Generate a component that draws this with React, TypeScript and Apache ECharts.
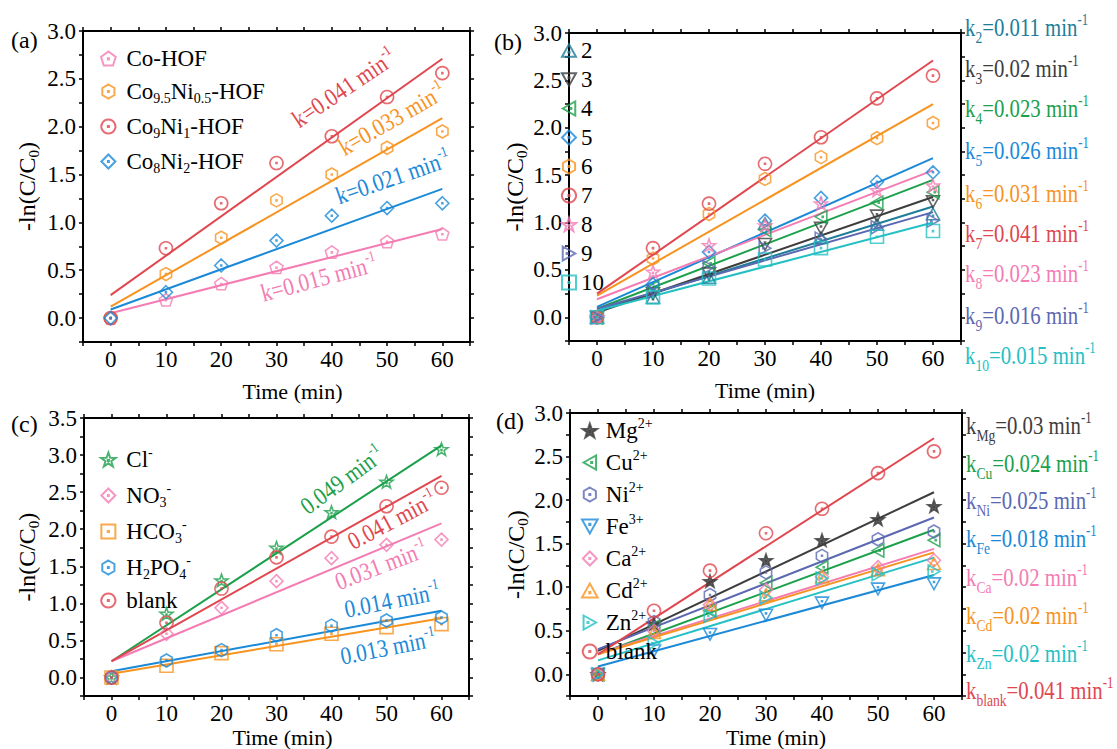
import React, { useEffect, useRef } from 'react';
import * as echarts from 'echarts';

const FONT = 'Times New Roman, Liberation Serif, Tinos, Nimbus Roman, Times, serif';

// ---------- shared x values ----------
const TIME = [0, 10, 20, 30, 40, 50, 60];
const FIT_X = [0, 60];

// ---------- colours ----------
const RED = '#e0474f';
const ORANGE = '#f7931e';
const PINK = '#f47cb3';
const BLUE = '#1a89d8';
const GREEN = '#1ba04b';
const GRAY = '#3d3d3d';
const TEAL = '#1d7d99';
const SLATE = '#5b68b1';
const CYAN = '#25c0c4';

// ---------- panel (a) ----------
const A_COHOF = [0, 0.19, 0.36, 0.53, 0.69, 0.8, 0.88];
const A_CO95 = [0, 0.46, 0.84, 1.23, 1.5, 1.78, 1.95];
const A_CO9 = [0, 0.73, 1.2, 1.62, 1.9, 2.31, 2.56];
const A_CO8 = [0, 0.27, 0.55, 0.81, 1.07, 1.15, 1.2];
const A_FIT_COHOF = [0.05, 0.93];
const A_FIT_CO95 = [0.12, 2.09];
const A_FIT_CO9 = [0.24, 2.71];
const A_FIT_CO8 = [0.09, 1.35];

// ---------- panel (b) ----------
const B_2 = [0, 0.21, 0.42, 0.99, 0.84, 0.98, 1.09];
const B_3 = [0, 0.25, 0.46, 0.77, 0.94, 1.07, 1.22];
const B_4 = [0, 0.32, 0.57, 0.92, 1.06, 1.21, 1.32];
const B_5 = [0, 0.35, 0.69, 1.02, 1.26, 1.43, 1.53];
const B_6 = [0, 0.62, 1.09, 1.46, 1.69, 1.89, 2.05];
const B_7 = [0, 0.73, 1.2, 1.62, 1.9, 2.31, 2.55];
const B_8 = [0, 0.48, 0.76, 0.97, 1.2, 1.34, 1.39];
const B_9 = [0, 0.27, 0.53, 0.73, 0.83, 0.95, 1.02];
const B_10 = [0, 0.21, 0.41, 0.61, 0.73, 0.85, 0.91];
const B_FIT_2 = [0.07, 1.17];
const B_FIT_3 = [0.05, 1.27];
const B_FIT_4 = [0.09, 1.45];
const B_FIT_5 = [0.11, 1.68];
const B_FIT_6 = [0.23, 2.25];
const B_FIT_7 = [0.25, 2.71];
const B_FIT_8 = [0.19, 1.55];
const B_FIT_9 = [0.09, 1.11];
const B_FIT_10 = [0.07, 1.0];

// ---------- panel (c) ----------
const C_CL = [0, 0.86, 1.31, 1.75, 2.23, 2.64, 3.08];
const C_NO3 = [0, 0.59, 0.94, 1.3, 1.61, 1.79, 1.86];
const C_HCO3 = [0, 0.16, 0.33, 0.45, 0.59, 0.68, 0.72];
const C_H2PO4 = [0, 0.23, 0.37, 0.57, 0.7, 0.77, 0.81];
const C_BLANK = [0, 0.74, 1.2, 1.62, 1.9, 2.31, 2.56];
const C_FIT_CL = [0.22, 3.13];
const C_FIT_NO3 = [0.22, 2.08];
const C_FIT_HCO3 = [0.05, 0.8];
const C_FIT_H2PO4 = [0.085, 0.9];
const C_FIT_BLANK = [0.22, 2.72];

// ---------- panel (d) ----------
const D_MG = [0, 0.58, 1.07, 1.31, 1.54, 1.78, 1.93];
const D_CU = [0, 0.55, 0.73, 1.05, 1.23, 1.42, 1.54];
const D_NI = [0, 0.6, 0.91, 1.17, 1.36, 1.55, 1.64];
const D_FE = [0, 0.27, 0.46, 0.68, 0.82, 0.98, 1.04];
const D_CA = [0, 0.5, 0.8, 0.97, 1.12, 1.23, 1.31];
const D_CD = [0, 0.48, 0.8, 0.91, 1.12, 1.2, 1.27];
const D_ZN = [0, 0.36, 0.67, 0.88, 1.1, 1.15, 1.18];
const D_BLANK = [0, 0.73, 1.19, 1.62, 1.9, 2.31, 2.56];
const D_FIT_MG = [0.27, 2.09];
const D_FIT_CU = [0.23, 1.66];
const D_FIT_NI = [0.29, 1.8];
const D_FIT_FE = [0.09, 1.14];
const D_FIT_CA = [0.24, 1.44];
const D_FIT_CD = [0.23, 1.4];
const D_FIT_ZN = [0.16, 1.34];
const D_FIT_BLANK = [0.23, 2.71];

// ---------- axis ranges ----------
const X_MIN = -5;
const X_MAX = 65;
const X_STEP = 5;
const Y_MIN = -0.25;
const Y_STEP = 0.25;
const Y_MAX_ABD = 3.0;
const Y_MAX_C = 3.5;

// ---------- symbols ----------
const DOT = 'M9.3,9.3L10.7,9.3L10.7,10.7L9.3,10.7Z';
const SYM = {
  circle: 'path://M10,1A9,9,0,1,1,9.99,1Z' + DOT,
  pentagon: 'path://M10,0.5L19.5,7.4L15.9,18.5L4.1,18.5L0.5,7.4Z' + DOT,
  hexagon: 'path://M10,0L18.66,5L18.66,15L10,20L1.34,15L1.34,5Z' + DOT,
  diamond: 'path://M10,0L20,10L10,20L0,10Z' + DOT,
  up: 'path://M10,1L19.5,18L0.5,18Z' + 'M9.3,11.3L10.7,11.3L10.7,12.7L9.3,12.7Z',
  down: 'path://M0.5,2L19.5,2L10,19Z' + 'M9.3,7.3L10.7,7.3L10.7,8.7L9.3,8.7Z',
  left: 'path://M1,10L18,0.5L18,19.5Z' + 'M11.3,9.3L12.7,9.3L12.7,10.7L11.3,10.7Z',
  right: 'path://M2,0.5L19,10L2,19.5Z' + 'M7.3,9.3L8.7,9.3L8.7,10.7L7.3,10.7Z',
  square: 'path://M2,2L18,2L18,18L2,18Z' + DOT,
  star:
    'path://M10,0L12.35,6.76L19.51,6.91L13.8,11.24L15.88,18.09L10,14L4.12,18.09L6.2,11.24L0.49,6.91L7.65,6.76Z' +
    'M9.3,9.6L10.7,9.6L10.7,11L9.3,11Z',
};

// ---------- legend labels (rich text) ----------
const LABELS: Record<string, string> = {
  a1: '{n|Co-HOF}',
  a2: '{n|Co}{b|9.5}{n|Ni}{b|0.5}{n|-HOF}',
  a3: '{n|Co}{b|9}{n|Ni}{b|1}{n|-HOF}',
  a4: '{n|Co}{b|8}{n|Ni}{b|2}{n|-HOF}',
  b2: '{n|2}', b3: '{n|3}', b4: '{n|4}', b5: '{n|5}', b6: '{n|6}',
  b7: '{n|7}', b8: '{n|8}', b9: '{n|9}', b10: '{n|10}',
  c1: '{n|Cl}{p|-}',
  c2: '{n|NO}{b|3}{p|-}',
  c3: '{n|HCO}{b|3}{p|-}',
  c4: '{n|H}{b|2}{n|PO}{b|4}{p|-}',
  c5: '{n|blank}',
  d1: '{n|Mg}{p|2+}',
  d2: '{n|Cu}{p|2+}',
  d3: '{n|Ni}{p|2+}',
  d4: '{n|Fe}{p|3+}',
  d5: '{n|Ca}{p|2+}',
  d6: '{n|Cd}{p|2+}',
  d7: '{n|Zn}{p|2+}',
  d8: '{n|blank}',
};

type Item = { id: string; data: number[]; fit: number[]; sym: string; color: string; filled?: boolean };

const PANEL_A: Item[] = [
  { id: 'a1', data: A_COHOF, fit: A_FIT_COHOF, sym: SYM.pentagon, color: PINK },
  { id: 'a2', data: A_CO95, fit: A_FIT_CO95, sym: SYM.hexagon, color: ORANGE },
  { id: 'a3', data: A_CO9, fit: A_FIT_CO9, sym: SYM.circle, color: RED },
  { id: 'a4', data: A_CO8, fit: A_FIT_CO8, sym: SYM.diamond, color: BLUE },
];
const PANEL_B: Item[] = [
  { id: 'b2', data: B_2, fit: B_FIT_2, sym: SYM.up, color: TEAL },
  { id: 'b3', data: B_3, fit: B_FIT_3, sym: SYM.down, color: GRAY },
  { id: 'b4', data: B_4, fit: B_FIT_4, sym: SYM.left, color: GREEN },
  { id: 'b5', data: B_5, fit: B_FIT_5, sym: SYM.diamond, color: BLUE },
  { id: 'b6', data: B_6, fit: B_FIT_6, sym: SYM.hexagon, color: ORANGE },
  { id: 'b7', data: B_7, fit: B_FIT_7, sym: SYM.circle, color: RED },
  { id: 'b8', data: B_8, fit: B_FIT_8, sym: SYM.star, color: PINK },
  { id: 'b9', data: B_9, fit: B_FIT_9, sym: SYM.right, color: SLATE },
  { id: 'b10', data: B_10, fit: B_FIT_10, sym: SYM.square, color: CYAN },
];
const PANEL_C: Item[] = [
  { id: 'c1', data: C_CL, fit: C_FIT_CL, sym: SYM.star, color: GREEN },
  { id: 'c2', data: C_NO3, fit: C_FIT_NO3, sym: SYM.diamond, color: PINK },
  { id: 'c3', data: C_HCO3, fit: C_FIT_HCO3, sym: SYM.square, color: ORANGE },
  { id: 'c4', data: C_H2PO4, fit: C_FIT_H2PO4, sym: SYM.hexagon, color: BLUE },
  { id: 'c5', data: C_BLANK, fit: C_FIT_BLANK, sym: SYM.circle, color: RED },
];
const PANEL_D: Item[] = [
  { id: 'd1', data: D_MG, fit: D_FIT_MG, sym: SYM.star, color: GRAY, filled: true },
  { id: 'd2', data: D_CU, fit: D_FIT_CU, sym: SYM.left, color: GREEN },
  { id: 'd3', data: D_NI, fit: D_FIT_NI, sym: SYM.hexagon, color: SLATE },
  { id: 'd4', data: D_FE, fit: D_FIT_FE, sym: SYM.down, color: BLUE },
  { id: 'd5', data: D_CA, fit: D_FIT_CA, sym: SYM.diamond, color: PINK },
  { id: 'd6', data: D_CD, fit: D_FIT_CD, sym: SYM.up, color: ORANGE },
  { id: 'd7', data: D_ZN, fit: D_FIT_ZN, sym: SYM.right, color: CYAN },
  { id: 'd8', data: D_BLANK, fit: D_FIT_BLANK, sym: SYM.circle, color: RED },
];

// right-hand rate constant labels
const B_K_LABELS = [
  { sub: '2', val: '=0.011 min', color: TEAL },
  { sub: '3', val: '=0.02 min', color: GRAY },
  { sub: '4', val: '=0.023 min', color: GREEN },
  { sub: '5', val: '=0.026 min', color: BLUE },
  { sub: '6', val: '=0.031 min', color: ORANGE },
  { sub: '7', val: '=0.041 min', color: RED },
  { sub: '8', val: '=0.023 min', color: PINK },
  { sub: '9', val: '=0.016 min', color: SLATE },
  { sub: '10', val: '=0.015 min', color: CYAN },
];
const D_K_LABELS = [
  { sub: 'Mg', val: '=0.03 min', color: GRAY },
  { sub: 'Cu', val: '=0.024 min', color: GREEN },
  { sub: 'Ni', val: '=0.025 min', color: SLATE },
  { sub: 'Fe', val: '=0.018 min', color: BLUE },
  { sub: 'Ca', val: '=0.02 min', color: PINK },
  { sub: 'Cd', val: '=0.02 min', color: ORANGE },
  { sub: 'Zn', val: '=0.02 min', color: CYAN },
  { sub: 'blank', val: '=0.041 min', color: RED },
];

// in-plot rate annotations
const A_NOTES = [
  { text: 'k=0.041 min', color: RED },
  { text: 'k=0.033 min', color: ORANGE },
  { text: 'k=0.021 min', color: BLUE },
  { text: 'k=0.015 min', color: PINK },
];
const C_NOTES = [
  { text: '0.049 min', color: GREEN },
  { text: '0.041 min', color: RED },
  { text: '0.031 min', color: PINK },
  { text: '0.014 min', color: BLUE },
  { text: '0.013 min', color: BLUE },
];

// ---------- layout (positions / styles) ----------
const GRIDS = [
  { left: 83, top: 31, width: 387, height: 311 },
  { left: 569, top: 33, width: 392, height: 308 },
  { left: 84, top: 418, width: 385, height: 279 },
  { left: 570, top: 413, width: 392, height: 287 },
];
const A_NOTE_POS = [
  [344, 88, 34], [392, 119, 30], [393, 177, 19], [319, 278, 15],
];
const C_NOTE_POS = [
  [342, 480, 36], [392, 520, 28], [381, 565, 21], [392, 600, 11], [388, 647, 11],
];
const B_K_Y = [27, 68, 108, 150, 193, 233, 273, 315, 355];
const D_K_Y = [425, 463, 500, 538, 577, 615, 653, 690];

function xFmt(v: number) {
  return v % 10 === 0 && v >= 0 && v <= 60 ? String(v) : '';
}
function yFmt(v: number) {
  const r = Math.round(v * 2);
  if (Math.abs(v * 2 - r) < 1e-6 && r >= 0) return (r / 2).toFixed(1);
  return '';
}

function buildAxes(gi: number, yMax: number, xGap: number, yGap: number, xShift: number) {
  const line = { show: true, onZero: false, lineStyle: { color: '#000', width: 2 } };
  const tick = { show: true, inside: false, length: 4, lineStyle: { color: '#000', width: 1.5 } };
  const xc = { type: 'value', gridIndex: gi, min: X_MIN, max: X_MAX, interval: X_STEP, axisLine: line, axisTick: tick, splitLine: { show: false } };
  const yc = { type: 'value', gridIndex: gi, min: Y_MIN, max: yMax, interval: Y_STEP, axisLine: line, axisTick: tick, splitLine: { show: false } };
  const x = [
    {
      ...xc,
      position: 'bottom',
      axisLabel: { formatter: xFmt, fontFamily: FONT, fontSize: 23, color: '#000', margin: 6 },
      name: 'Time (min)',
      nameLocation: 'middle',
      nameGap: xGap,
      nameTextStyle: { fontFamily: FONT, fontSize: 22, color: '#000', padding: [0, 0, 0, xShift * 2] },
    },
    { ...xc, position: 'top', axisLabel: { show: false } },
  ];
  const y = [
    {
      ...yc,
      position: 'left',
      axisLabel: { formatter: yFmt, fontFamily: FONT, fontSize: 23, color: '#000', margin: 7 },
      name: '{a|-ln(C/C}{b|0}{a|)}',
      nameLocation: 'middle',
      nameRotate: 90,
      nameGap: yGap,
      nameTextStyle: {
        fontFamily: FONT,
        color: '#000',
        fontSize: 24,
        rich: {
          a: { fontFamily: FONT, fontSize: 24, color: '#000', lineHeight: 26 },
          b: { fontFamily: FONT, fontSize: 15, color: '#000', lineHeight: 15, padding: [14, 0, 0, 0] },
        },
      },
    },
    { ...yc, position: 'right', axisLabel: { show: false } },
  ];
  return { x, y };
}

function buildSeries(items: Item[], gi: number) {
  const fits = items.map((it) => ({
    type: 'line',
    name: it.id + '_fit',
    xAxisIndex: gi * 2,
    yAxisIndex: gi * 2,
    data: FIT_X.map((t, i) => [t, it.fit[i]]),
    symbol: 'none',
    showSymbol: false,
    silent: true,
    lineStyle: { color: it.color, width: 2 },
    z: 2,
  }));
  const pts = items.map((it) => ({
    type: 'scatter',
    name: it.id,
    xAxisIndex: gi * 2,
    yAxisIndex: gi * 2,
    data: TIME.map((t, i) => [t, it.data[i]]),
    symbol: it.sym,
    symbolSize: 13,
    symbolKeepAspect: true,
    silent: true,
    itemStyle: {
      color: it.filled ? it.color : 'rgba(255,255,255,0)',
      borderColor: it.color,
      borderWidth: 1.6,
    },
    z: 3,
  }));
  return [...fits, ...pts];
}

function legendRich(fs: number, lh: number) {
  return {
    n: { fontFamily: FONT, fontSize: fs, color: '#000', lineHeight: lh },
    b: { fontFamily: FONT, fontSize: 14, color: '#000', lineHeight: 14, padding: [13, 0, 0, 0] },
    p: { fontFamily: FONT, fontSize: 14, color: '#000', lineHeight: 14, padding: [0, 0, 15, 0] },
  };
}

function buildLegend(items: Item[], left: number, top: number, itemWidth: number, gap: number, fs: number, lh: number) {
  return {
    data: items.map((it) => it.id),
    orient: 'vertical',
    left,
    top,
    itemWidth,
    itemHeight: 14,
    itemGap: gap,
    selectedMode: false,
    formatter: (name: string) => LABELS[name] || name,
    textStyle: { fontFamily: FONT, fontSize: fs, color: '#000', rich: legendRich(fs, lh) },
  };
}

function noteRich(fs: number) {
  return {
    n: { fontFamily: FONT, fontSize: fs, lineHeight: fs + 2 },
    p: { fontFamily: FONT, fontSize: 15, lineHeight: 15, padding: [0, 0, 15, 0] },
  };
}

function rotNote(text: string, color: string, pos: number[]) {
  return {
    type: 'text',
    x: pos[0],
    y: pos[1],
    rotation: (pos[2] * Math.PI) / 180,
    scaleX: 0.85,
    silent: true,
    z: 10,
    style: {
      text: '{n|' + text + '}{p|-1}',
      fill: color,
      fontFamily: FONT,
      fontSize: 25,
      align: 'center',
      verticalAlign: 'middle',
      rich: noteRich(25),
    },
  };
}

function kLabel(sub: string, val: string, color: string, x: number, y: number) {
  return {
    type: 'text',
    x,
    y,
    scaleX: 0.8,
    silent: true,
    z: 10,
    style: {
      text: '{n|k}{b|' + sub + '}{n|' + val + '}{p|-1}',
      fill: color,
      fontFamily: FONT,
      fontSize: 26,
      align: 'left',
      verticalAlign: 'middle',
      rich: {
        n: { fontFamily: FONT, fontSize: 26, lineHeight: 28 },
        b: { fontFamily: FONT, fontSize: 17, lineHeight: 17, padding: [20, 0, 0, 0] },
        p: { fontFamily: FONT, fontSize: 16, lineHeight: 16, padding: [0, 0, 16, 0] },
      },
    },
  };
}

function panelLabel(t: string, x: number, y: number) {
  return {
    type: 'text',
    x,
    y,
    silent: true,
    style: { text: t, fill: '#000', fontFamily: FONT, fontSize: 24, align: 'left', verticalAlign: 'middle' },
  };
}

export default function App() {
  const ref = useRef<HTMLDivElement>(null);
  useEffect(() => {
    if (!ref.current) return;
    const chart = echarts.init(ref.current, null, { renderer: 'svg' });
    const ax = [
      buildAxes(0, Y_MAX_ABD, 38, 43, 16),
      buildAxes(1, Y_MAX_ABD, 38, 40, 0),
      buildAxes(2, Y_MAX_C, 28, 44, 6),
      buildAxes(3, Y_MAX_ABD, 25, 38, 10),
    ];
    const graphic: any[] = [
      panelLabel('(a)', 11, 40),
      panelLabel('(b)', 494, 42),
      panelLabel('(c)', 11, 424),
      panelLabel('(d)', 496, 421),
      ...A_NOTES.map((n, i) => rotNote(n.text, n.color, A_NOTE_POS[i])),
      ...C_NOTES.map((n, i) => rotNote(n.text, n.color, C_NOTE_POS[i])),
      ...B_K_LABELS.map((k, i) => kLabel(k.sub, k.val, k.color, 965, B_K_Y[i])),
      ...D_K_LABELS.map((k, i) => kLabel(k.sub, k.val, k.color, 966, D_K_Y[i])),
    ];
    chart.setOption({
      animation: false,
      backgroundColor: '#fff',
      grid: GRIDS.map((g) => ({ ...g, containLabel: false })),
      xAxis: ax.flatMap((a) => a.x),
      yAxis: ax.flatMap((a) => a.y),
      legend: [
        buildLegend(PANEL_A, 95, 42, 26, 8, 23, 30),
        buildLegend(PANEL_B, 556, 34, 14, 6, 23, 26),
        buildLegend(PANEL_C, 95, 440, 26, 7, 23, 30),
        buildLegend(PANEL_D, 576, 411, 22, 3, 23, 28),
      ],
      series: [
        ...buildSeries(PANEL_A, 0),
        ...buildSeries(PANEL_B, 1),
        ...buildSeries(PANEL_C, 2),
        ...buildSeries(PANEL_D, 3),
      ],
      graphic,
    });
    return () => chart.dispose();
  }, []);
  return <div ref={ref} style={{ position: 'fixed', left: 0, top: 0, width: 1117, height: 749 }} />;
}
